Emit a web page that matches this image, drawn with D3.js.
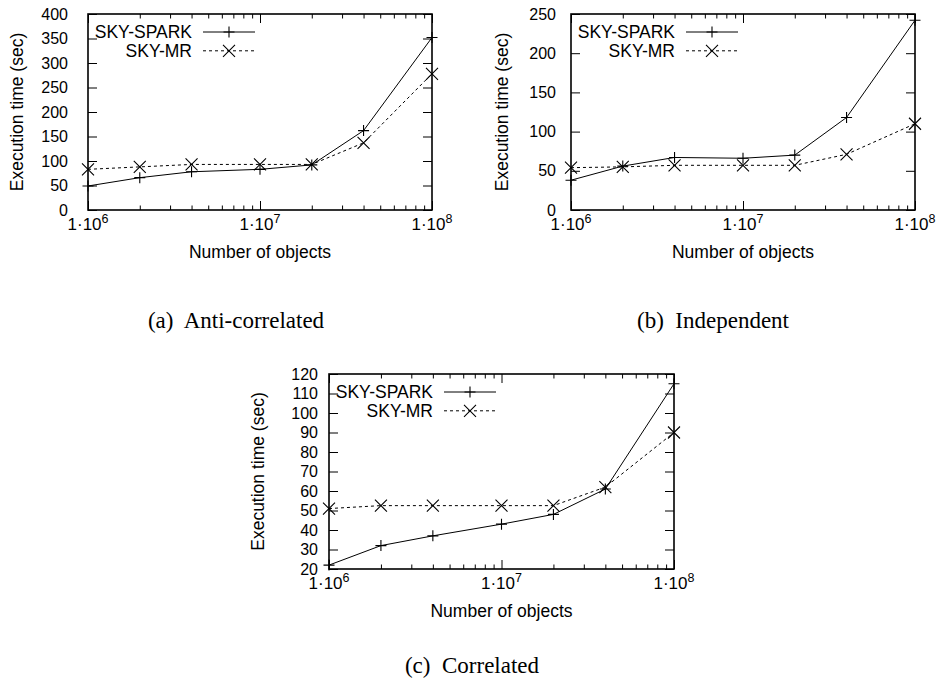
<!DOCTYPE html>
<html><head><meta charset="utf-8">
<script src="https://cdn.jsdelivr.net/npm/d3@7"></script>
<style>body{margin:0;background:#fff} svg{display:block}</style>
</head><body>
<script>
// ---- data ----
const objectCounts = [1e6, 2e6, 4e6, 1e7, 2e7, 4e7, 1e8];
const seriesNames = ["SKY-SPARK", "SKY-MR"];
const antiSpark  = [49, 66, 78, 83, 92, 162, 352];
const antiMR     = [83, 88, 93, 93, 93, 137, 278];
const indepSpark = [38, 56, 67, 66, 70, 118, 242];
const indepMR    = [54, 55, 57, 57, 57, 71, 110];
const corrSpark  = [22, 32, 37, 43, 48, 61, 115];
const corrMR     = [51, 52.5, 52.5, 52.5, 52.5, 62, 90];
const xMajorTicks = [1e6, 1e7, 1e8];
const xTickMantissa = "1·10";
const xTickExponents = ["6", "7", "8"];
const yTicksAnti  = [0, 50, 100, 150, 200, 250, 300, 350, 400];
const yTicksIndep = [0, 50, 100, 150, 200, 250];
const yTicksCorr  = [20, 30, 40, 50, 60, 70, 80, 90, 100, 110, 120];
const captions = ["(a)  Anti-correlated", "(b)  Independent", "(c)  Correlated"];
const xAxisTitle = "Number of objects";
const yAxisTitle = "Execution time (sec)";

// ---- layout ----
const W = 942, H = 689;
const sans = "'Liberation Sans', Arial, Helvetica, sans-serif";
const serif = "'Liberation Serif', 'Times New Roman', serif";
const FS_TICK = 16, FS_TEXT = 17.5;

const panels = [
  {left: 88, top: 14, w: 344, h: 196, yTicks: yTicksAnti, series: [antiSpark, antiMR], caption: captions[0], labelGap: 20, ytitleX: 17, captionY: 328, captionX: 236},
  {left: 571, top: 14, w: 344, h: 196, yTicks: yTicksIndep, series: [indepSpark, indepMR], caption: captions[1], labelGap: 15, ytitleX: 502, captionY: 328, captionX: 713},
  {left: 329, top: 374, w: 345, h: 195, yTicks: yTicksCorr, series: [corrSpark, corrMR], caption: captions[2], labelGap: 11, ytitleX: 258, captionY: 673, captionX: 472}
];

const svg = d3.select("body").append("svg").attr("width", W).attr("height", H);

const plusPath = "M-5.5,0H5.5M0,-5.5V5.5";
const crossPath = "M-6,-6L6,6M-6,6L6,-6";
const markers = [plusPath, crossPath];
const dashes = [null, "3,3"];

panels.forEach(p => {
  const x = d3.scaleLog().domain([xMajorTicks[0], xMajorTicks[xMajorTicks.length - 1]]).range([0, p.w]);
  const y = d3.scaleLinear().domain([p.yTicks[0], p.yTicks[p.yTicks.length - 1]]).range([p.h, 0]);
  const g = svg.append("g").attr("transform", `translate(${p.left},${p.top})`);
  const minor = x.ticks().filter(v => !xMajorTicks.includes(v));

  const style = sel => {
    sel.select(".domain").remove();
    sel.selectAll("line").attr("stroke", "#000").attr("stroke-width", 1);
    sel.selectAll("text").attr("font-family", sans).attr("font-size", FS_TICK).attr("fill", "#000");
  };

  // y axes
  g.append("g").call(d3.axisLeft(y).tickValues(p.yTicks).tickSize(-9).tickPadding(p.labelGap)).call(style);
  g.append("g").attr("transform", `translate(${p.w},0)`)
    .call(d3.axisRight(y).tickValues(p.yTicks).tickSize(-9).tickFormat("")).call(style);
  // x axes (major + minor)
  g.append("g").attr("transform", `translate(0,${p.h})`)
    .call(d3.axisBottom(x).tickValues(xMajorTicks).tickSize(-9).tickFormat("")).call(style);
  g.append("g").attr("transform", `translate(0,${p.h})`)
    .call(d3.axisBottom(x).tickValues(minor).tickSize(-4.5).tickFormat("")).call(style);
  g.append("g")
    .call(d3.axisTop(x).tickValues(xMajorTicks).tickSize(-9).tickFormat("")).call(style);
  g.append("g")
    .call(d3.axisTop(x).tickValues(minor).tickSize(-4.5).tickFormat("")).call(style);

  // x tick labels with superscript
  xMajorTicks.forEach((v, i) => {
    const t = g.append("text").attr("x", x(v)).attr("y", p.h + 20)
      .attr("text-anchor", "middle").attr("font-family", sans).attr("font-size", 17);
    t.append("tspan").text(xTickMantissa);
    t.append("tspan").attr("dy", -7).attr("font-size", 12.5).text(xTickExponents[i]);
  });

  // box
  g.append("rect").attr("width", p.w).attr("height", p.h)
    .attr("fill", "none").attr("stroke", "#000").attr("stroke-width", 1.6);

  // series
  const line = d3.line().x((d, i) => x(objectCounts[i])).y(d => y(d));
  p.series.forEach((vals, si) => {
    g.append("path").datum(vals).attr("d", line).attr("fill", "none")
      .attr("stroke", "#000").attr("stroke-width", 1)
      .attr("stroke-dasharray", dashes[si]);
    g.selectAll(null).data(vals).enter().append("path")
      .attr("transform", (d, i) => `translate(${x(objectCounts[i])},${y(d)})`)
      .attr("d", markers[si]).attr("stroke", "#000").attr("stroke-width", 1.1).attr("fill", "none");
  });

  // legend
  seriesNames.forEach((name, si) => {
    const ly = 18 + si * 18.8;
    g.append("text").attr("x", 104).attr("y", ly).attr("dy", "0.35em")
      .attr("text-anchor", "end").attr("font-family", sans).attr("font-size", FS_TEXT).text(name);
    g.append("line").attr("x1", 115).attr("x2", 167).attr("y1", ly).attr("y2", ly)
      .attr("stroke", "#000").attr("stroke-width", 1).attr("stroke-dasharray", dashes[si]);
    g.append("path").attr("transform", `translate(141,${ly})`).attr("d", markers[si])
      .attr("stroke", "#000").attr("stroke-width", 1.1).attr("fill", "none");
  });

  // axis titles
  g.append("text").attr("x", p.w / 2).attr("y", p.h + 48).attr("text-anchor", "middle")
    .attr("font-family", sans).attr("font-size", FS_TEXT).text(xAxisTitle);
  svg.append("text").attr("transform", `translate(${p.ytitleX},${p.top + p.h / 2}) rotate(-90)`)
    .attr("text-anchor", "middle").attr("dy", "0.35em")
    .attr("font-family", sans).attr("font-size", FS_TEXT).text(yAxisTitle);

  // caption
  svg.append("text").attr("x", p.captionX).attr("y", p.captionY).attr("text-anchor", "middle")
    .attr("font-family", serif).attr("font-size", 23).attr("xml:space", "preserve").text(p.caption);
});
</script>
</body></html>
